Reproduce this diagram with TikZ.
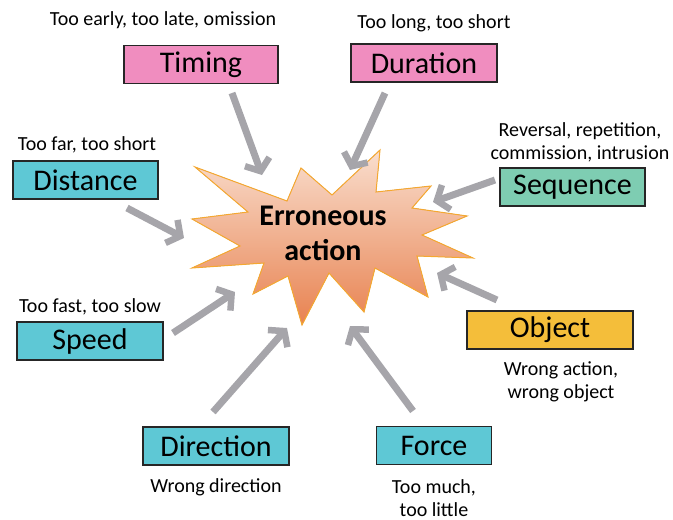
\documentclass[tikz,border=0pt]{standalone}
\usepackage{fontspec}
\setmainfont{Carlito}
\usetikzlibrary{arrows.meta}
\definecolor{rosa}{RGB}{240,141,191}
\definecolor{cian}{RGB}{94,200,213}
\definecolor{verde}{RGB}{126,205,178}
\definecolor{amarillo}{RGB}{244,190,58}
\definecolor{gris}{RGB}{166,165,170}
\definecolor{borde}{RGB}{245,168,48}
\definecolor{estrellaA}{RGB}{249,222,206}
\definecolor{estrellaB}{RGB}{232,130,80}

\begin{document}
\begin{tikzpicture}[x=1pt, y=-1pt,
  caja/.style={draw=black!85, line width=1.4pt, minimum height=38pt, inner sep=0pt, font=\fontsize{30}{34}\selectfont},
  nota/.style={font=\fontsize{20}{23}\selectfont, inner sep=0pt, align=center},
  flecha/.style={draw=gris, line width=7pt, -{Straight Barb[length=10pt, width=26pt, line width=6.5pt]}}]
  \useasboundingbox (0,0) rectangle (673,520);
  % estrella central
  \filldraw[draw=borde, line width=1pt, top color=estrellaA, bottom color=estrellaB]
    (195,167)--(287,201)--(301,168)--(332,195)--(380,150)--(376,192)--(431,186)--(412,208)
    --(467,216)--(422,235)--(473,258)--(417,256)--(428,297)--(375,268)--(364,312)--(329,273)
    --(302,325)--(288,276)--(253,294)--(264,263)--(192,268)--(240,246)--(192,219)--(248,212)--cycle;
  \node[font=\bfseries\fontsize{30}{35}\selectfont, align=center, inner sep=0pt] (accion) at (323,233) {Erroneous\\action};
  % cajas
  \foreach \n/\t/\c/\x/\y/\w in {timing/Timing/rosa/201/64.5/154, duration/Duration/rosa/424/63/146,
      distance/Distance/cian/85.5/180/145, sequence/Sequence/verde/572.5/187/145,
      speed/Speed/cian/90/341/146, object/Object/amarillo/550/330/166,
      direction/Direction/cian/216/446/146, force/Force/cian/434/445.5/115}{
    \node[caja, fill=\c, minimum width=\w pt] (\n) at (\x,\y) {\t};}
  % notas
  \foreach \n/\a/\x/\y/\t in {timing/base/163/25/{Too early, too late, omission},
      duration/base/434/28/{Too long, too short}, distance/base/87/150/{Too far, too short},
      sequence/center/580/142/{Reversal, repetition,\\commission, intrusion},
      speed/base/90/312/{Too fast, too slow}, object/center/561/382/{Wrong action,\\wrong object},
      direction/base/216/492/{Wrong direction}, force/center/434/498/{Too much,\\too little}}{
    \node[nota, anchor=\a] (\n-nota) at (\x,\y) {\t};}
  % flechas
  \foreach \n/\xa/\ya/\xb/\yb in {timing/232/93/262/175, duration/385/93/350/170,
      distance/127/208/184/238, sequence/495/180/433/202, object/497/300/437/273,
      speed/173/333/235/292, direction/213/412/287/328, force/413/411/350/326}{
    \coordinate (\n-a) at (\xa,\ya);
    \coordinate (\n-b) at (\xb,\yb);
    \draw[flecha] (\n-a)--(\n-b);}
\end{tikzpicture}
\end{document}
